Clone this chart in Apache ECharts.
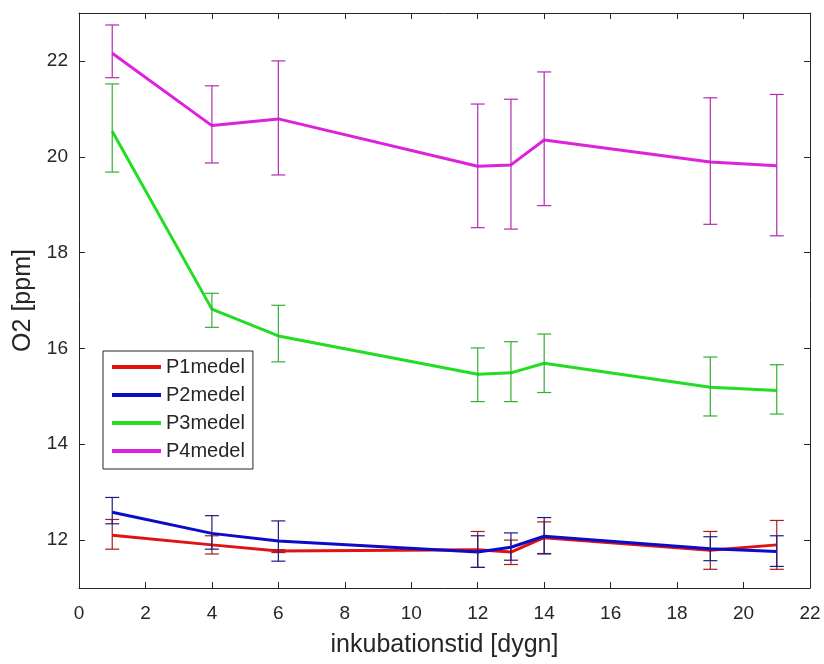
<!DOCTYPE html>
<html>
<head>
<meta charset="utf-8">
<script src="https://cdn.jsdelivr.net/npm/echarts@6/dist/echarts.min.js"></script>
<style>
  html, body { margin: 0; padding: 0; background: #fff; }
  #chart { width: 824px; height: 664px; }
</style>
</head>
<body>
<div id="chart"></div>
<script>
// ---- data ----
const days = [1, 4, 6, 12, 13, 14, 19, 21];
const xTicks = [0, 2, 4, 6, 8, 10, 12, 14, 16, 18, 20, 22];
const yTicks = [12, 14, 16, 18, 20, 22];

const seriesNames = ['P1medel', 'P2medel', 'P3medel', 'P4medel'];

const p1Mean = [12.10, 11.90, 11.77, 11.80, 11.75, 12.05, 11.79, 11.90];
const p1Low  = [11.81, 11.71, 11.74, 11.43, 11.49, 11.72, 11.39, 11.39];
const p1High = [12.43, 12.09, 11.80, 12.18, 12.00, 12.38, 12.18, 12.41];

const p2Mean = [12.58, 12.14, 11.98, 11.75, 11.85, 12.08, 11.82, 11.76];
const p2Low  = [12.34, 11.81, 11.56, 11.43, 11.58, 11.71, 11.57, 11.45];
const p2High = [12.89, 12.51, 12.40, 12.09, 12.15, 12.47, 12.07, 12.09];

const p3Mean = [20.53, 16.82, 16.26, 15.46, 15.49, 15.69, 15.19, 15.12];
const p3Low  = [19.68, 16.44, 15.72, 14.89, 14.89, 15.08, 14.59, 14.63];
const p3High = [21.52, 17.15, 16.90, 16.01, 16.14, 16.30, 15.82, 15.66];

const p4Mean = [22.16, 20.65, 20.79, 19.80, 19.83, 20.35, 19.89, 19.81];
const p4Low  = [21.65, 19.87, 19.62, 18.52, 18.49, 18.98, 18.59, 18.35];
const p4High = [22.75, 21.48, 22.00, 21.10, 21.20, 21.77, 21.23, 21.30];

// ---- styling ----
const lineColors = ['#e01212', '#0c0cc8', '#22dd22', '#dd22dd'];
const barColors  = ['#a81c1c', '#1c1c84', '#33b033', '#b02cb0'];
const FONT = '"Liberation Sans", Arial, Helvetica, sans-serif';
const AX = '#262626';

const means = [p1Mean, p2Mean, p3Mean, p4Mean];
const lows  = [p1Low, p2Low, p3Low, p4Low];
const highs = [p1High, p2High, p3High, p4High];

const chart = echarts.init(document.getElementById('chart'), null, { renderer: 'canvas' });

function errorRenderer(color) {
  return function (params, api) {
    const x = api.value(0);
    const pLo = api.coord([x, api.value(1)]);
    const pHi = api.coord([x, api.value(2)]);
    const w = 7;
    const st = { stroke: color, lineWidth: 1.2 };
    return {
      type: 'group',
      children: [
        { type: 'line', shape: { x1: pLo[0], y1: pLo[1], x2: pHi[0], y2: pHi[1] }, style: st },
        { type: 'line', shape: { x1: pLo[0] - w, y1: pLo[1], x2: pLo[0] + w, y2: pLo[1] }, style: st },
        { type: 'line', shape: { x1: pHi[0] - w, y1: pHi[1], x2: pHi[0] + w, y2: pHi[1] }, style: st }
      ]
    };
  };
}

const series = [];
seriesNames.forEach((name, i) => {
  series.push({
    name: name,
    type: 'line',
    data: days.map((d, k) => [d, means[i][k]]),
    showSymbol: false,
    symbol: 'none',
    lineStyle: { color: lineColors[i], width: 3 },
    itemStyle: { color: lineColors[i] },
    z: 2 + i * 2
  });
  series.push({
    name: name + '_err',
    type: 'custom',
    renderItem: errorRenderer(barColors[i]),
    encode: { x: 0, y: [1, 2] },
    data: days.map((d, k) => [d, lows[i][k], highs[i][k]]),
    z: 3 + i * 2,
    silent: true
  });
});

const tickInside = { show: true, inside: true, length: 6, lineStyle: { color: AX, width: 1 } };
const axLine = { show: true, onZero: false, lineStyle: { color: AX, width: 1 } };

chart.setOption({
  animation: false,
  backgroundColor: '#ffffff',
  textStyle: { fontFamily: FONT },
  grid: { left: 79, right: 14, top: 13, bottom: 76, containLabel: false },
  legend: {
    data: seriesNames,
    orient: 'vertical',
    left: 103,
    top: 351,
    icon: 'rect',
    itemWidth: 49,
    itemHeight: 4,
    itemGap: 8,
    padding: [6, 8, 8, 9],
    backgroundColor: '#ffffff',
    borderColor: AX,
    borderWidth: 1,
    borderRadius: 0,
    textStyle: { fontFamily: FONT, fontSize: 20, color: AX, padding: [0, 0, 0, 0] }
  },
  xAxis: [
    {
      type: 'value', min: 0, max: 22, interval: 2, position: 'bottom',
      name: 'inkubationstid [dygn]', nameLocation: 'middle', nameGap: 45,
      nameTextStyle: { fontFamily: FONT, fontSize: 25, color: AX },
      axisLine: axLine, axisTick: Object.assign({ customValues: xTicks }, tickInside),
      axisLabel: { customValues: xTicks, fontFamily: FONT, fontSize: 19, color: AX, margin: 16 },
      splitLine: { show: false }
    },
    {
      type: 'value', min: 0, max: 22, interval: 2, position: 'top',
      axisLine: axLine, axisTick: Object.assign({ customValues: xTicks }, tickInside),
      axisLabel: { show: false }, splitLine: { show: false }
    }
  ],
  yAxis: [
    {
      type: 'value', min: 11, max: 23, position: 'left',
      name: 'O2 [ppm]', nameLocation: 'middle', nameGap: 42,
      nameTextStyle: { fontFamily: FONT, fontSize: 25, color: AX },
      axisLine: axLine, axisTick: Object.assign({ customValues: yTicks }, tickInside),
      axisLabel: { customValues: yTicks, fontFamily: FONT, fontSize: 19, color: AX, margin: 11 },
      splitLine: { show: false }
    },
    {
      type: 'value', min: 11, max: 23, position: 'right',
      axisLine: axLine, axisTick: Object.assign({ customValues: yTicks }, tickInside),
      axisLabel: { show: false }, splitLine: { show: false }
    }
  ],
  series: series
});
</script>
</body>
</html>
